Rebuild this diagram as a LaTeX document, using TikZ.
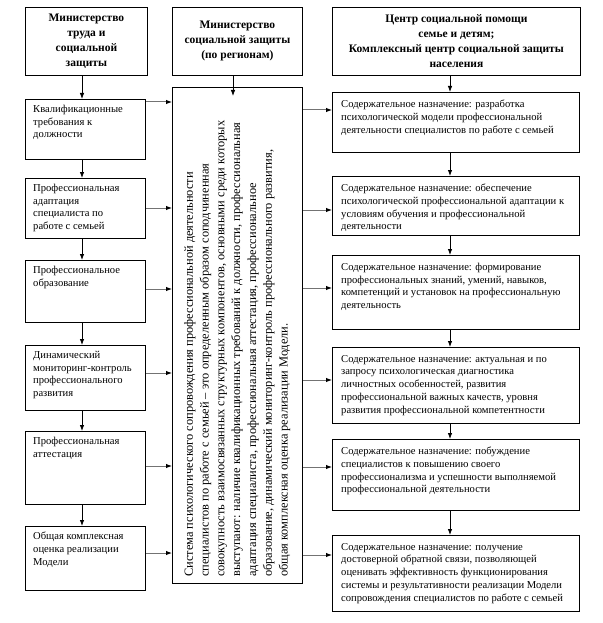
\documentclass[tikz,border=0pt]{standalone}
\usepackage{fontspec}
\setmainfont{Liberation Serif}
\usetikzlibrary{arrows.meta}
\newcommand\tbox[8]{% name, x1, y1, x2, y2, xpad, ypad, text
  \node[frame, minimum width={(#4-#2)*1pt}, minimum height={(#5-#3)*1pt}] (#1) at (#2,#3) {};
  \node[txt] (#1t) at ([xshift=#6pt,yshift=-#7pt]#1.north west) {#8};
}
\newcommand\headbox[6]{% name, x1, y1, x2, y2, text
  \node[frame, minimum width={(#4-#2)*1pt}, minimum height={(#5-#3)*1pt}] (#1) at (#2,#3) {};
  \node[htxt] (#1t) at (#1.center) {#6};
}
\begin{document}
\begin{tikzpicture}[x=1pt,y=-1pt,
  frame/.style={draw, line width=0.8pt, anchor=north west, inner sep=0pt},
  txt/.style={anchor=north west, inner sep=0pt, align=left, font=\fontsize{10.6}{12.7}\selectfont},
  htxt/.style={inner sep=0pt, align=center, font=\bfseries\fontsize{11.5}{15}\selectfont},
  mtxt/.style={anchor=north west, inner sep=0pt, align=left, rotate=90, font=\fontsize{12.4}{15.8}\selectfont},
  varr/.style={draw=black, line width=0.8pt, -{Latex[length=6pt,width=4.5pt]}},
  harr/.style={draw=black!55, line width=1pt, -{Latex[length=6pt,width=4.5pt,color=black]}}
]
\useasboundingbox (0,0) rectangle (602,623);
\coordinate (lc) at (82,0);
\coordinate (mc) at (233,0);
\coordinate (rc) at (450,0);

% headers
\headbox{h1}{25}{7}{147}{75}{Министерство\\труда и\\социальной\\защиты}
\headbox{h2}{172}{7}{302}{75}{Министерство\\социальной защиты\\(по регионам)}
\headbox{h3}{332}{7}{580}{75}{Центр социальной помощи\\семье и детям;\\Комплексный центр социальной защиты\\населения}

% left column
\tbox{b1}{25}{99}{145}{159}{8}{6}{Квалификационные\\требования к\\должности}
\tbox{b2}{25}{178}{145}{238}{8}{6}{Профессиональная\\адаптация\\специалиста по\\работе с семьей}
\tbox{b3}{25}{260}{145}{322}{8}{6}{Профессиональное\\образование}
\tbox{b4}{25}{345}{145}{410}{8}{6}{Динамический\\мониторинг-контроль\\профессионального\\развития}
\tbox{b5}{25}{431}{145}{504}{8}{6}{Профессиональная\\аттестация}
\tbox{b6}{25}{526}{145}{590}{8}{6}{Общая комплексная\\оценка реализации\\Модели}

% middle
\node[frame, minimum width=130pt, minimum height=496pt] (m) at (172,87) {};
\node[mtxt] (mt) at (184,577) {Система психологического сопровождения профессиональной деятельности\\
специалистов по работе с семьей – это определенным образом соподчиненная\\
совокупность взаимосвязанных структурных компонентов, основными среди которых\\
выступают: наличие квалификационных требований к должности, профессиональная\\
адаптация специалиста, профессиональная аттестация, профессиональное\\
образование, динамический мониторинг-контроль профессионального развития,\\
общая комплексная оценка реализации Модели.};

% right column
\tbox{r1}{332}{92}{579}{152}{9}{8}{Содержательное назначение: разработка\\психологической модели профессиональной\\деятельности специалистов по работе с семьей}
\tbox{r2}{332}{176}{579}{235}{9}{8}{Содержательное назначение: обеспечение\\психологической профессиональной адаптации к\\условиям обучения и профессиональной\\деятельности}
\tbox{r3}{332}{255}{579}{329}{9}{8}{Содержательное назначение: формирование\\профессиональных знаний, умений, навыков,\\компетенций и установок на профессиональную\\деятельность}
\tbox{r4}{332}{347}{579}{423}{9}{8}{Содержательное назначение: актуальная и по\\запросу психологическая диагностика\\личностных особенностей, развития\\профессиональной важных качеств, уровня\\развития профессиональной компетентности}
\tbox{r5}{332}{439}{579}{510}{9}{8}{Содержательное назначение: побуждение\\специалистов к повышению своего\\профессионализма и успешности выполняемой\\профессиональной деятельности}
\tbox{r6}{332}{535}{579}{611}{9}{8}{Содержательное назначение: получение\\достоверной обратной связи, позволяющей\\оценивать эффективность функционирования\\системы и результативности реализации Модели\\сопровождения специалистов по работе с семьей}

% vertical arrows
\draw[varr] (h1.south -| lc) -- (b1.north -| lc);
\draw[varr] (b1.south -| lc) -- (b2.north -| lc);
\draw[varr] (b2.south -| lc) -- (b3.north -| lc);
\draw[varr] (b3.south -| lc) -- (b4.north -| lc);
\draw[varr] (b4.south -| lc) -- (b5.north -| lc);
\draw[varr] (b5.south -| lc) -- (b6.north -| lc);
\draw[varr] (h2.south -| mc) -- ([yshift=-9pt]m.north -| mc);
\draw[varr] (h3.south -| rc) -- (r1.north -| rc);
\draw[varr] (r1.south -| rc) -- (r2.north -| rc);
\draw[varr] (r2.south -| rc) -- (r3.north -| rc);
\draw[varr] (r3.south -| rc) -- (r4.north -| rc);
\draw[varr] (r4.south -| rc) -- (r5.north -| rc);
\draw[varr] (r5.south -| rc) -- (r6.north -| rc);

% horizontal arrows left -> middle
\draw[harr] (b1.east |- 0,102) -- (m.west |- 0,102);
\draw[harr] (b2.east |- 0,208) -- (m.west |- 0,208);
\draw[harr] (b3.east |- 0,289) -- (m.west |- 0,289);
\draw[harr] (b4.east |- 0,373) -- (m.west |- 0,373);
\draw[harr] (b5.east |- 0,466) -- (m.west |- 0,466);
\draw[harr] (b6.east |- 0,553) -- (m.west |- 0,553);
% middle -> right
\draw[harr] (m.east |- 0,110) -- (r1.west |- 0,110);
\draw[harr] (m.east |- 0,210) -- (r2.west |- 0,210);
\draw[harr] (m.east |- 0,288) -- (r3.west |- 0,288);
\draw[harr] (m.east |- 0,380) -- (r4.west |- 0,380);
\draw[harr] (m.east |- 0,467) -- (r5.west |- 0,467);
\draw[harr] (m.east |- 0,555) -- (r6.west |- 0,555);
\end{tikzpicture}
\end{document}
